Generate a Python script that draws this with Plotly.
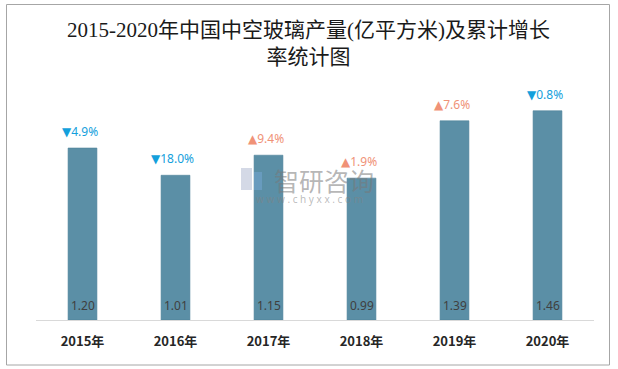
import plotly.graph_objects as go

years = ["2015年", "2016年", "2017年", "2018年", "2019年", "2020年"]
output = [1.20, 1.01, 1.15, 0.99, 1.39, 1.46]
growth = ["4.9%", "18.0%", "9.4%", "1.9%", "7.6%", "0.8%"]
direction = ["down", "down", "up", "up", "up", "down"]

title_text = "2015-2020年中国中空玻璃产量(亿平方米)及累计增长<br>率统计图"

BAR = "#5b8fa6"
BLUE = "#13a0dc"
ORANGE = "#f09277"

fig = go.Figure()
fig.add_trace(go.Bar(
    x=years, y=output, width=0.31,
    marker=dict(color=BAR, line=dict(color="#4e8299", width=0.6)),
    hoverinfo="skip", showlegend=False,
))

ann = []
for yr, v, g, d in zip(years, output, growth, direction):
    sym = "▼" if d == "down" else "▲"
    col = BLUE if d == "down" else ORANGE
    ann.append(dict(x=yr, y=v, xref="x", yref="y", text=sym + g, showarrow=False,
                    yanchor="bottom", yshift=6, xshift=-3,
                    font=dict(family="Noto Sans, DejaVu Sans", size=12, color=col)))
    ann.append(dict(x=yr, y=0, xref="x", yref="y", text=f"{v:.2f}", showarrow=False,
                    yanchor="bottom", yshift=4,
                    font=dict(family="Noto Sans", size=12, color="#404040")))

# title
ann.append(dict(x=0.489, y=(320 - 16) / 240, xref="paper", yref="paper",
                text=title_text, showarrow=False, yanchor="top", align="center",
                font=dict(family="Liberation Serif, Noto Sans CJK SC", size=21, color="#1a1a1a")))

# watermark
ann.append(dict(x=(324 - 36) / 558, y=(320 - 180) / 240, xref="paper", yref="paper",
                text="智研咨询", showarrow=False,
                font=dict(family="Noto Sans CJK SC", size=25, color="rgba(120,120,120,0.55)")))
ann.append(dict(x=(309 - 36) / 558, y=(320 - 199) / 240, xref="paper", yref="paper",
                text="w w w . c h y x x . c o m", showarrow=False,
                font=dict(family="Noto Sans", size=10, color="rgba(130,130,130,0.55)")))

shapes = [
    dict(type="rect", xref="paper", yref="paper",
         x0=(6.5 - 36) / 558, x1=(609.5 - 36) / 558,
         y0=(320 - 365) / 240, y1=(320 - 4.5) / 240,
         line=dict(color="#a6a6a6", width=1), fillcolor="rgba(0,0,0,0)", layer="below"),
    # watermark logo
    dict(type="rect", xref="paper", yref="paper",
         x0=(241 - 36) / 558, x1=(252 - 36) / 558,
         y0=(320 - 190) / 240, y1=(320 - 168) / 240,
         line=dict(width=0), fillcolor="rgba(160,170,200,0.45)"),
    dict(type="rect", xref="paper", yref="paper",
         x0=(254 - 36) / 558, x1=(262 - 36) / 558,
         y0=(320 - 190) / 240, y1=(320 - 172) / 240,
         line=dict(width=0), fillcolor="rgba(120,170,220,0.45)"),
]

fig.update_layout(
    width=618, height=369,
    margin=dict(l=36, r=24, t=80, b=49),
    paper_bgcolor="white", plot_bgcolor="white",
    annotations=ann, shapes=shapes,
    xaxis=dict(range=[-0.5, 5.5], showline=True, linecolor="#d9d9d9", linewidth=1,
               ticks="", showgrid=False, ticklabelstandoff=9,
               tickfont=dict(family="Noto Sans CJK SC", size=13, color="#262626", weight="bold")),
    yaxis=dict(range=[0, 240 / 143.3], visible=False, showgrid=False),
    bargap=0.69,
)

fig.write_html("out.html", config={"displayModeBar": False, "staticPlot": True},
               post_script="document.body.style.margin='0';document.body.style.overflow='hidden';")
